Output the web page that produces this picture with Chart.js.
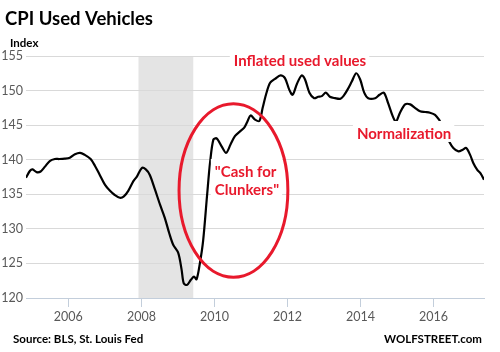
<!DOCTYPE html>
<html>
<head>
<meta charset="utf-8">
<script src="https://cdn.jsdelivr.net/npm/chart.js@4/dist/chart.umd.min.js"></script>
<style>
  body { margin: 0; background: #ffffff; }
  #wrap { width: 500px; height: 352px; }
</style>
</head>
<body>
<div id="wrap"><canvas id="cpi" width="500" height="352"></canvas></div>
<script>
// CPI used vehicles (decimal year, index)
let dates = [
    2004.84, 2004.95, 2005.02, 2005.13, 2005.24, 2005.36, 2005.49, 2005.63, 2005.75, 2005.90,
    2006.04, 2006.18, 2006.32, 2006.45, 2006.61, 2006.73, 2006.86, 2007.00, 2007.14, 2007.27,
    2007.41, 2007.52, 2007.64, 2007.78, 2007.88, 2008.01, 2008.12, 2008.23, 2008.37, 2008.51,
    2008.64, 2008.76, 2008.87, 2009.01, 2009.10, 2009.16, 2009.25, 2009.35, 2009.44, 2009.51,
    2009.60, 2009.69, 2009.80, 2009.88, 2009.97, 2010.06, 2010.20, 2010.32, 2010.44, 2010.56,
    2010.70, 2010.81, 2010.90, 2010.99, 2011.11, 2011.23, 2011.32, 2011.41, 2011.52, 2011.66,
    2011.81, 2011.93, 2012.05, 2012.14, 2012.26, 2012.39, 2012.48, 2012.60, 2012.73, 2012.84,
    2012.94, 2013.05, 2013.16, 2013.30, 2013.44, 2013.53, 2013.64, 2013.76, 2013.88, 2013.99,
    2014.10, 2014.21, 2014.40, 2014.52, 2014.64, 2014.76, 2014.88, 2014.97, 2015.08, 2015.22,
    2015.36, 2015.49, 2015.63, 2015.77, 2015.90, 2016.04, 2016.16, 2016.22, 2016.32, 2016.43,
    2016.54, 2016.68, 2016.80, 2016.89, 2017.00, 2017.09, 2017.20, 2017.29, 2017.38
]
let cpiIndex = [
    137.4, 138.4, 138.6, 138.2, 138.3, 139.0, 139.8, 140.1, 140.1, 140.15,
    140.3, 140.8, 141.0, 140.7, 140.1, 139.1, 137.8, 136.4, 135.5, 134.9,
    134.5, 134.7, 135.5, 136.9, 137.6, 138.8, 138.6, 137.8, 135.7, 133.5,
    131.6, 129.4, 127.7, 126.5, 124.1, 122.1, 121.9, 122.6, 123.1, 122.7,
    125.0, 128.3, 135.0, 139.6, 142.9, 143.1, 141.9, 141.0, 142.2, 143.4,
    144.1, 144.6, 145.5, 146.4, 145.8, 145.6, 147.5, 149.4, 151.1, 151.7,
    152.2, 151.8, 150.1, 149.4, 151.0, 152.2, 151.6, 149.7, 148.9, 149.1,
    149.2, 149.7, 149.1, 148.9, 148.8, 149.2, 150.1, 151.3, 152.5, 151.6,
    149.7, 148.9, 148.9, 149.4, 149.7, 148.1, 146.3, 145.5, 146.8, 148.0,
    148.0, 147.5, 147.0, 146.9, 146.8, 146.5, 145.7, 145.1, 144.0, 142.6,
    141.7, 141.2, 141.45, 141.7, 140.7, 139.5, 138.5, 138.0, 137.1
]
let xTicks = [2006, 2008, 2010, 2012, 2014, 2016]
let yTicks = [120, 125, 130, 135, 140, 145, 150, 155]
let recession = [2007.92, 2009.42]   // Dec 2007 - Jun 2009

// ellipse round the cash for clunkers jump, in data units
let clunkerYears = [2009.03, 2012.01]
let clunkerIndex = [123.0, 148.1]

let red = "#e8192c"
let labelFont = "bold 15px Lato"

let points = []
for (let i = 0; i < dates.length; i++) {
    points.push({x: dates[i], y: cpiIndex[i]})
}

// text with a white box behind it, anchored at a data position
let boxedText = function (ctx, lines, x, y, lineGap) {
    ctx.font = labelFont
    let w = 0
    lines.forEach(line => { w = Math.max(w, ctx.measureText(line).width) })
    ctx.fillStyle = "#ffffff"
    ctx.fillRect(x - 4, y - 18, w + 7, 21 + lineGap * (lines.length - 1))
    ctx.fillStyle = red
    ctx.textAlign = "left"
    ctx.textBaseline = "alphabetic"
    lines.forEach((line, i) => ctx.fillText(line, x, y + i * lineGap))
}

let extras = {
    id: "extras",
    beforeDraw(chart) {
        let {ctx, chartArea, scales} = chart
        let x0 = scales.x.getPixelForValue(recession[0])
        let x1 = scales.x.getPixelForValue(recession[1])
        ctx.save()
        ctx.fillStyle = "#e4e4e4"
        ctx.fillRect(x0, chartArea.top, x1 - x0, chartArea.bottom - chartArea.top)
        ctx.restore()
    },
    afterDatasetsDraw(chart) {
        let {ctx, scales} = chart
        let sx = scales.x, sy = scales.y
        ctx.save()

        let ex0 = sx.getPixelForValue(clunkerYears[0]), ex1 = sx.getPixelForValue(clunkerYears[1])
        let ey0 = sy.getPixelForValue(clunkerIndex[1]), ey1 = sy.getPixelForValue(clunkerIndex[0])
        ctx.beginPath()
        ctx.ellipse((ex0 + ex1) / 2, (ey0 + ey1) / 2, (ex1 - ex0) / 2, (ey1 - ey0) / 2, 0, 0, Math.PI * 2)
        ctx.strokeStyle = red
        ctx.lineWidth = 3
        ctx.stroke()

        boxedText(ctx, ["Inflated used values"], sx.getPixelForValue(2010.53), sy.getPixelForValue(153.55), 0)
        boxedText(ctx, ["Normalization"], sx.getPixelForValue(2013.90), sy.getPixelForValue(143.0), 0)
        boxedText(ctx, ["\"Cash for", "Clunkers\""], sx.getPixelForValue(2010.01), sy.getPixelForValue(137.5), 18.4)
        ctx.restore()
    },
    afterDraw(chart) {
        let ctx = chart.ctx
        ctx.save()
        ctx.textBaseline = "alphabetic"
        ctx.textAlign = "left"
        ctx.fillStyle = "#000000"
        ctx.font = "bold 18.5px Lato"
        ctx.fillText("CPI Used Vehicles", 5, 25)
        ctx.font = "bold 11.5px Lato"
        ctx.fillText("Index", 10, 46.5)
        ctx.font = "bold 11.5px Lato"
        ctx.fillText("Source: BLS, St. Louis Fed", 13, 343)
        ctx.textAlign = "right"
        ctx.fillText("WOLFSTREET.com", 482, 343)
        ctx.restore()
    }
}

let chart = new Chart(document.getElementById("cpi"), {
    type: "line",
    data: {
        datasets: [{
            data: points,
            borderColor: "#000000",
            borderWidth: 2.2,
            pointRadius: 0,
            tension: 0.3,
            fill: false
        }]
    },
    options: {
        responsive: false,
        animation: false,
        events: [],
        layout: {padding: {top: 56, right: 16, left: 0, bottom: 0}},
        plugins: {legend: {display: false}, tooltip: {enabled: false}, title: {display: false}},
        scales: {
            x: {
                type: "linear",
                min: dates[0],
                max: dates[dates.length - 1],
                afterFit(scale) { scale.height = 54 },
                afterBuildTicks(scale) { scale.ticks = xTicks.map(v => ({value: v})) },
                grid: {drawOnChartArea: false, drawTicks: true, tickLength: 9, color: "#c3cedb"},
                border: {display: true, color: "#c3cedb", width: 1},
                ticks: {
                    color: "#595959",
                    font: {family: "Lato", size: 12.5},
                    padding: 2,
                    maxRotation: 0,
                    callback: v => String(v)
                }
            },
            y: {
                min: 120,
                max: 155,
                afterFit(scale) { scale.width = 26 },
                afterBuildTicks(scale) { scale.ticks = yTicks.map(v => ({value: v})) },
                grid: {color: "#d9d9d9", drawTicks: false, lineWidth: 1},
                border: {display: false},
                ticks: {
                    color: "#595959",
                    font: {family: "Lato", size: 12.5},
                    padding: 3,
                    callback: v => String(v)
                }
            }
        }
    },
    plugins: [extras]
})
</script>
</body>
</html>
